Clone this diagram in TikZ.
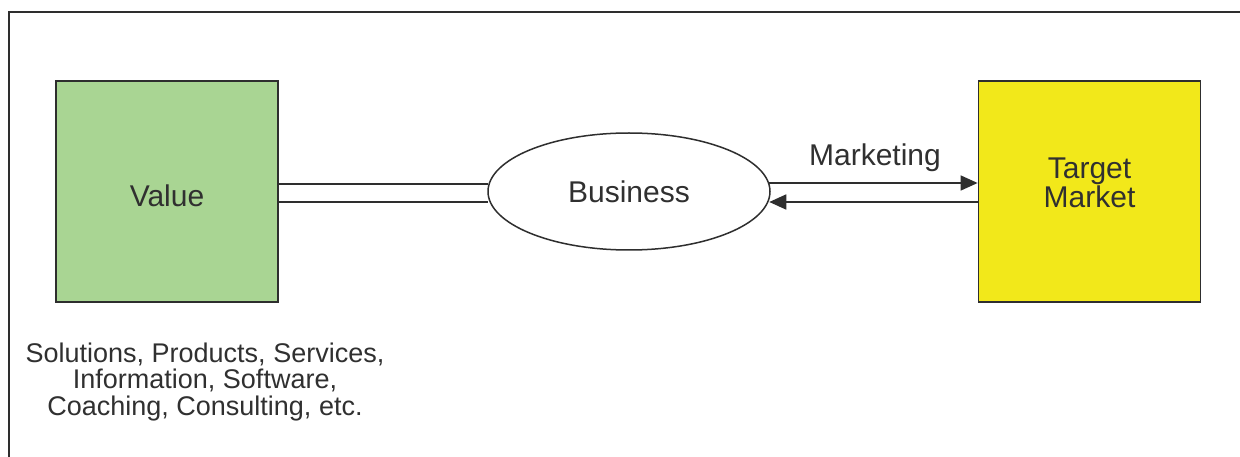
\documentclass[tikz,border=0pt]{standalone}
\usepackage{fontspec}
\setmainfont{Liberation Sans}
\usetikzlibrary{shapes.geometric,arrows.meta,calc}
\definecolor{valgreen}{HTML}{A9D593}
\definecolor{tgtyellow}{HTML}{F2E81A}
\definecolor{edge}{HTML}{2E2E2E}
\definecolor{txt}{HTML}{303030}
\begin{document}
\begin{tikzpicture}[x=1pt,y=-1pt,
  box/.style={draw=edge,line width=1.8pt,minimum width=222pt,minimum height=221pt,inner sep=0pt},
  bus/.style={ellipse,draw=edge,line width=1.5pt,minimum width=282pt,minimum height=117pt,inner sep=0pt},
  conn/.style={draw=edge,line width=1.6pt},
  arr/.style={conn,-{Triangle[length=17pt,width=15pt]}},
  lbl/.style={font=\fontsize{30}{29}\selectfont,text=txt,align=center,inner sep=0pt}]
\useasboundingbox (0,0) rectangle (1240,457);
\fill[white] (0,0) rectangle (1240,457);
% frame (only top and left visible)
\draw[edge,line width=2pt] (9,480) -- (9,12) -- (1260,12);
\node[box,fill=valgreen] (value) at (167,191.5) {};
\node[bus] (business) at (629,191.5) {};
\node[box,fill=tgtyellow] (target) at (1089.5,191.5) {};
\node[lbl] (valuetxt) at (value.center) [yshift=-4pt] {Value};
\node[lbl] (bustxt) at (business.center) {Business};
\node[lbl] (tgttxt) at (target.center) [yshift=9pt] {Target\\Market};
\node[lbl,font=\fontsize{27}{26.5}\selectfont] (caption) at (205,382) {Solutions, Products, Services,\\Information, Software,\\Coaching, Consulting, etc.};
% double line value -- business
\draw[conn] ($(value.east)+(0,-7.5)$) -- ($(business.west)+(1.2,-7.5)$);
\draw[conn] ($(value.east)+(0,10.5)$) -- ($(business.west)+(1.2,10.5)$);
% marketing arrows
\draw[arr] ($(business.east)+(-1.5,-8.5)$) -- ($(target.west)+(0,-8.5)$);
\draw[arr] ($(target.west)+(0,10.5)$) -- ($(business.east)+(-1.5,10.5)$);
\node[lbl] (mk) at (875,158) {Marketing};
\end{tikzpicture}
\end{document}
